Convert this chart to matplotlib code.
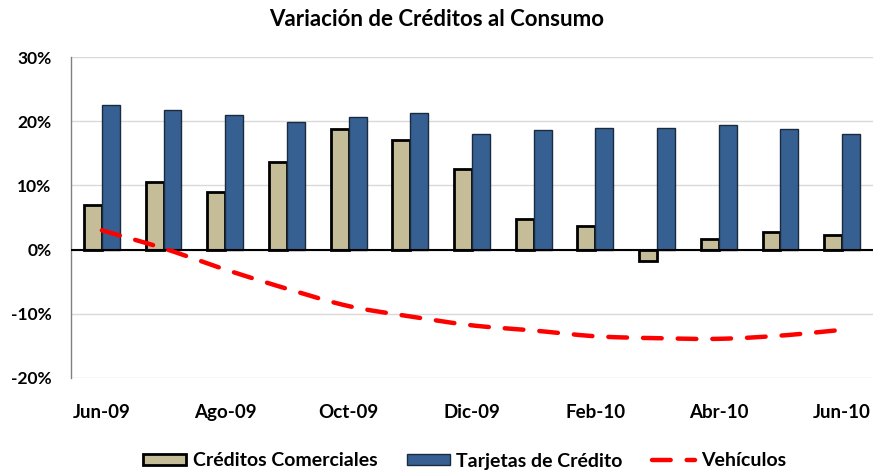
import numpy as np
import matplotlib
matplotlib.use("Agg")
import matplotlib.pyplot as plt
from matplotlib.ticker import FuncFormatter

plt.rcParams['font.family'] = ['Lato', 'DejaVu Sans']
plt.rcParams['font.weight'] = 'bold'

months = ["Jun-09", "Jul-09", "Ago-09", "Sep-09", "Oct-09", "Nov-09", "Dic-09",
          "Ene-10", "Feb-10", "Mar-10", "Abr-10", "May-10", "Jun-10"]
comerciales = [7.0, 10.6, 9.0, 13.7, 18.8, 17.1, 12.5, 4.8, 3.6, -1.7, 1.7, 2.8, 2.2]
tarjetas = [22.5, 21.8, 21.0, 19.8, 20.6, 21.2, 18.0, 18.6, 19.0, 19.0, 19.4, 18.8, 18.0]
vehiculos = [3.0, 0.2, -3.1, -6.1, -8.8, -10.4, -11.8, -12.6, -13.5, -13.8, -13.9, -13.4, -12.5]

def catmull_rom(x, y, n=20):
    x = np.asarray(x, float); y = np.asarray(y, float)
    px = np.concatenate([[2*x[0]-x[1]], x, [2*x[-1]-x[-2]]])
    py = np.concatenate([[2*y[0]-y[1]], y, [2*y[-1]-y[-2]]])
    xs, ys = [], []
    t = np.linspace(0, 1, n, endpoint=False)
    for i in range(1, len(px)-2):
        p0, p1, p2, p3 = py[i-1], py[i], py[i+1], py[i+2]
        q0, q1, q2, q3 = px[i-1], px[i], px[i+1], px[i+2]
        f = lambda a0, a1, a2, a3: 0.5*((2*a1) + (-a0+a2)*t + (2*a0-5*a1+4*a2-a3)*t**2 + (-a0+3*a1-3*a2+a3)*t**3)
        xs.append(f(q0, q1, q2, q3)); ys.append(f(p0, p1, p2, p3))
    xs.append([x[-1]]); ys.append([y[-1]])
    return np.concatenate(xs), np.concatenate(ys)

fig = plt.figure(figsize=(8.73, 4.70), dpi=100)
ax = fig.add_axes([71/873, 1-378/470, 1-71/873, (378-57)/470])

x = np.arange(len(months))
w = 0.29
b1 = ax.bar(x - w/2, comerciales, w, color='#c4bd97', edgecolor='black', linewidth=2.0,
            label='Créditos Comerciales', zorder=3)
b2 = ax.bar(x + w/2, tarjetas, w, color='#376092', edgecolor='#1a2a3f', linewidth=1.0,
            label='Tarjetas de Crédito', zorder=3)
sx, sy = catmull_rom(x, vehiculos)
l1, = ax.plot(sx, sy, color='#ff0000', linewidth=3.2, dashes=(4.2, 3.6),
              dash_capstyle='round', label='Vehículos', zorder=4)

ax.set_xlim(-0.5, len(months) - 0.5)
ax.set_ylim(-20, 30)
ax.set_yticks([-20, -10, 0, 10, 20, 30])
ax.yaxis.set_major_formatter(FuncFormatter(lambda v, p: f"{int(v)}%"))
ax.grid(axis='y', color='#d9d9d9', linewidth=1.0, zorder=0)
ax.axhline(0, color='black', linewidth=1.5, zorder=3.5)
ax.set_xticks(x[::2])
ax.set_xticklabels(months[::2])
ax.tick_params(axis='x', length=0, labelsize=13.5, pad=19)
ax.tick_params(axis='y', length=0, labelsize=12.5, pad=14)
for s in ['top', 'right', 'bottom']:
    ax.spines[s].set_visible(False)
ax.spines['left'].set_color('#808080')
ax.spines['left'].set_linewidth(1.0)

fig.text(0.5, 1-20/470, "Variación de Créditos al Consumo", ha='center', va='center',
         fontsize=16, fontweight='bold')

fig.legend([b1, b2, l1], ['Créditos Comerciales', 'Tarjetas de Crédito', 'Vehículos'],
           loc='center', bbox_to_anchor=(465/873, 1-461/470), ncol=3,
           frameon=False, fontsize=14, handlelength=2.2, handleheight=0.55,
           columnspacing=1.5, handletextpad=0.35)

fig.savefig("out.png", dpi=100)
